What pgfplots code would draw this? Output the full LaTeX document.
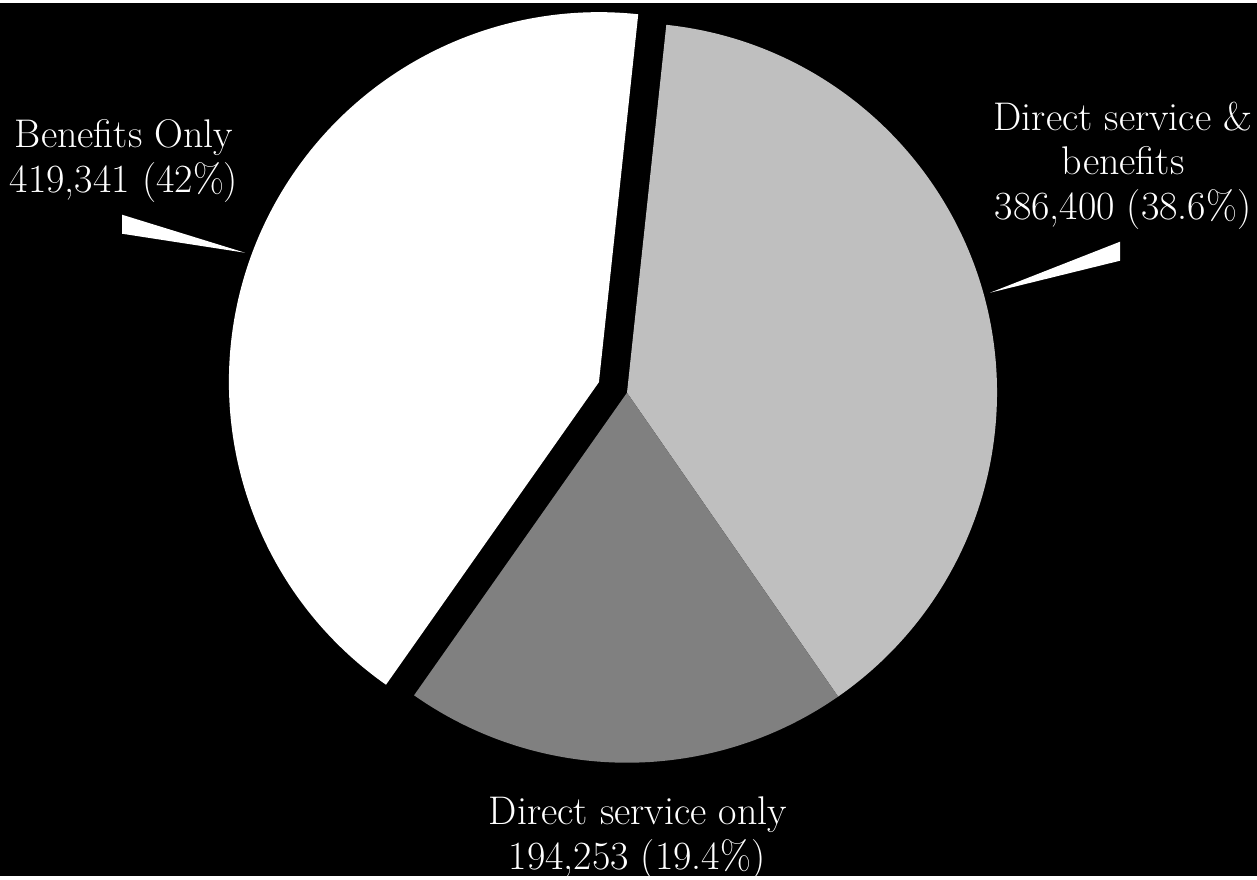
\documentclass[border=0pt]{standalone}
\usepackage{pgfplots}
\usepackage{pgfplotstable}
\pgfplotsset{compat=1.18}

\pgfplotstableread{
value
386400
194253
419341
}\piedata

\begin{document}
\begin{tikzpicture}
\pgfplotstablegetelem{0}{value}\of\piedata \edef\va{\pgfplotsretval}
\pgfplotstablegetelem{1}{value}\of\piedata \edef\vb{\pgfplotsretval}
\pgfplotstablegetelem{2}{value}\of\piedata \edef\vc{\pgfplotsretval}
\edef\tot{\fpeval{\va+\vb+\vc}}
% angles, clockwise from the start
\def\st{83.9}
\edef\aa{\fpeval{\st-360*\va/\tot}}
\edef\ab{\fpeval{\aa-360*\vb/\tot}}
\edef\ac{\fpeval{\st-360}}
\edef\mid{\fpeval{(\ab+\ac)/2}}
\def\cx{627}\def\cy{483}
\edef\ex{\fpeval{\cx+30*cosd(\mid)}}
\edef\ey{\fpeval{\cy+30*sind(\mid)}}
\def\r{185pt}
\begin{axis}[
    x=0.5pt, y=0.5pt,
    xmin=0, xmax=1257, ymin=0, ymax=873,
    hide axis,
    clip=false,
]
\fill[black] (axis cs:0,0) rectangle (axis cs:1257,873);
% slices
\fill[black!25] (axis cs:\cx,\cy) -- ++(\st:\r) arc[start angle=\st, end angle=\aa, radius=\r] -- cycle;
\fill[black!50] (axis cs:\cx,\cy) -- ++(\aa:\r) arc[start angle=\aa, end angle=\ab, radius=\r] -- cycle;
\fill[white] (axis cs:\ex,\ey) -- ++(\ab:\r) arc[start angle=\ab, end angle=\ac, radius=\r] -- cycle;
% callouts
\fill[white] (axis cs:122,661) -- (axis cs:122,642) -- (axis cs:245,623) -- cycle;
\fill[white] (axis cs:1120,634) -- (axis cs:1120,615) -- (axis cs:990,583) -- cycle;
% labels
\begin{scope}[every node/.style={text=white, anchor=base, inner sep=0pt, font=\fontsize{20}{24}\selectfont}]
\node at (axis cs:124,728) {Benefits Only};
\node at (axis cs:124,683) {419,341 (42\%)};
\node at (axis cs:1123,745) {Direct service \&};
\node at (axis cs:1123,701) {benefits};
\node at (axis cs:1123,656) {386,400 (38.6\%)};
\node at (axis cs:638,51) {Direct service only};
\node at (axis cs:637,6) {194,253 (19.4\%)};
\end{scope}
\end{axis}
\end{tikzpicture}
\end{document}
